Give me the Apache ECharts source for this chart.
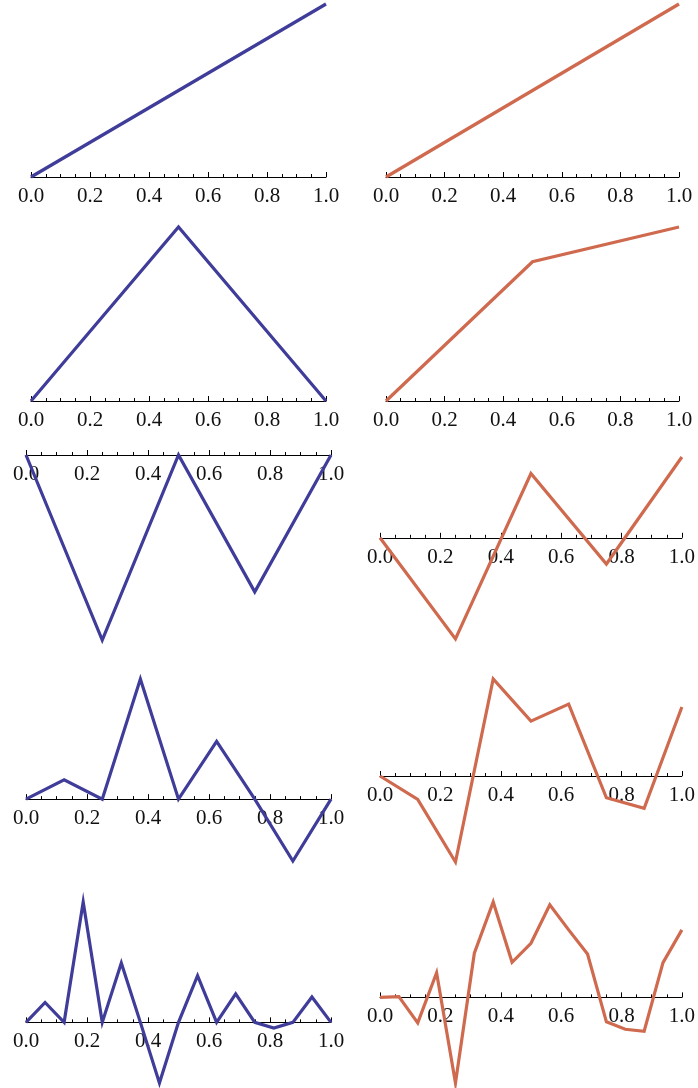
<!DOCTYPE html>
<html>
<head>
<meta charset="utf-8">
<script src="https://cdn.jsdelivr.net/npm/echarts@6/dist/echarts.min.js"></script>
<style>
    html, body { margin: 0; padding: 0; background: #fff; }
    #chart { width: 698px; height: 1088px; }
</style>
</head>
<body>
<div id="chart"></div>
<script>
// x positions of the samples
const xHalf = [0, 1];
const xThird = [0, 0.5, 1];
const xQuarter = [0, 0.25, 0.5, 0.75, 1];
const xEighth = [0, 0.125, 0.25, 0.375, 0.5, 0.625, 0.75, 0.875, 1];
const xSixteenth = [0, 0.0625, 0.125, 0.1875, 0.25, 0.3125, 0.375, 0.4375, 0.5,
    0.5625, 0.625, 0.6875, 0.75, 0.8125, 0.875, 0.9375, 1];

// left column (blue)
const blueRow1 = [0, 1];
const blueRow2 = [0, 1, 0];
const blueRow3 = [0, -1, 0, -0.74, 0];
const blueRow4 = [0, 0.106, 0, 0.66, 0, 0.317, 0, -0.34, 0];
const blueRow5 = [0, 0.11, 0, 0.665, 0, 0.328, 0, -0.335, 0, 0.258, 0, 0.157, 0, -0.031, 0, 0.14, 0];

// right column (orange)
const orangeRow1 = [0, 1];
const orangeRow2 = [0, 0.8, 1];
const orangeRow3 = [0, -0.556, 0.353, -0.144, 0.444];
const orangeRow4 = [0, -0.128, -0.47, 0.53, 0.3, 0.393, -0.119, -0.177, 0.377];
const orangeRow5 = [0, 0.004, -0.141, 0.136, -0.473, 0.244, 0.527, 0.194, 0.299,
    0.512, 0.373, 0.24, -0.135, -0.176, -0.187, 0.192, 0.373];

const tickLabels = ["0.0", "0.2", "0.4", "0.6", "0.8", "1.0"];

const BLUE = "#3f3d99";
const ORANGE = "#cf6a4f";

// one panel per entry: data plus where its plot box sits
const panels = [
    { xs: xHalf, ys: blueRow1, color: BLUE, left: 31, width: 295, top: 4, height: 173 },
    { xs: xHalf, ys: orangeRow1, color: ORANGE, left: 386, width: 293, top: 4, height: 173 },
    { xs: xThird, ys: blueRow2, color: BLUE, left: 31, width: 295, top: 227, height: 174 },
    { xs: xThird, ys: orangeRow2, color: ORANGE, left: 386, width: 293, top: 227, height: 174 },
    { xs: xQuarter, ys: blueRow3, color: BLUE, left: 26, width: 305, top: 455, height: 185 },
    { xs: xQuarter, ys: orangeRow3, color: ORANGE, left: 380, width: 306, top: 457, height: 182 },
    { xs: xEighth, ys: blueRow4, color: BLUE, left: 26, width: 305, top: 679, height: 182 },
    { xs: xEighth, ys: orangeRow4, color: ORANGE, left: 380, width: 306, top: 679, height: 183 },
    { xs: xSixteenth, ys: blueRow5, color: BLUE, left: 26, width: 305, top: 902, height: 181 },
    { xs: xSixteenth, ys: orangeRow5, color: ORANGE, left: 380, width: 306, top: 902, height: 181 }
];

// how far above the plot box bottom the y = 0 line sits
function zeroOffset(p) {
    const lo = Math.min(...p.ys);
    const hi = Math.max(...p.ys);
    return (0 - lo) / (hi - lo) * p.height;
}

const chart = echarts.init(document.getElementById("chart"));

chart.setOption({
    animation: false,
    backgroundColor: "#fff",
    grid: panels.map(p => ({
        left: p.left,
        width: p.width,
        top: p.top,
        height: p.height,
        containLabel: false
    })),
    xAxis: panels.map((p, i) => ({
        type: "value",
        gridIndex: i,
        position: "bottom",
        offset: -zeroOffset(p),
        min: 0,
        max: 1,
        interval: 0.2,
        axisLine: {
            onZero: false,
            lineStyle: { color: "#000", width: 1 }
        },
        axisTick: {
            inside: true,
            length: 5,
            lineStyle: { color: "#000", width: 1 }
        },
        minorTick: {
            show: true,
            splitNumber: 4,
            length: 3,
            lineStyle: { color: "#000", width: 1 }
        },
        splitLine: { show: false },
        axisLabel: {
            margin: 9,
            color: "#111",
            fontFamily: "'Liberation Serif', 'DejaVu Serif', serif",
            fontSize: 21,
            formatter: v => tickLabels[Math.round(v * 5)]
        }
    })),
    yAxis: panels.map((p, i) => ({
        type: "value",
        gridIndex: i,
        show: false,
        min: "dataMin",
        max: "dataMax",
        splitLine: { show: false }
    })),
    series: panels.map((p, i) => ({
        type: "line",
        xAxisIndex: i,
        yAxisIndex: i,
        data: p.xs.map((x, k) => [x, p.ys[k]]),
        symbol: "none",
        clip: false,
        lineStyle: { color: p.color, width: 3.2, join: "miter" }
    }))
});
</script>
</body>
</html>
